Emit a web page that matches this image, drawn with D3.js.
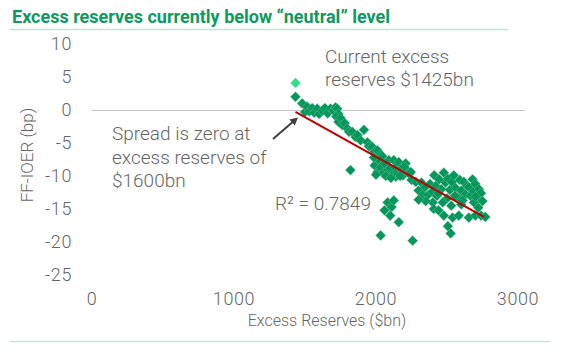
<!DOCTYPE html>
<html>
<head>
<meta charset="utf-8">
<script src="https://cdn.jsdelivr.net/npm/d3@7"></script>
<style>
    body { margin: 0; background: #fff; }
    text { font-family: Roboto, "Liberation Sans", sans-serif; }
</style>
</head>
<body>
<div id="chart"></div>
<script>
// excess reserves ($bn) vs FF-IOER spread (bp)
var excessReserves = [
    1433, 1480, 1500, 1515, 1530, 1551, 1565, 1586, 1600, 1621, 1640, 1660, 1680, 1701, 1715, 1727,
    1736, 1720, 1736, 1750, 1763, 1780, 1798, 1810, 1833, 1856, 1870, 1892, 1915, 1939, 1950, 1974,
    1990, 2010, 2033, 1820,
    1990, 2010, 2020, 2033, 2050, 2060, 2082, 2090, 2100, 2115, 2125, 2135, 2150, 2160, 2175, 2190,
    2209, 2220, 2235, 2245, 2070, 2000, 2140, 2250, 1985, 2045, 2105, 2170, 2200,
    2082, 2110, 2125, 2060, 2100, 2160, 2033, 2258,
    2280, 2300, 2320, 2329, 2345, 2365, 2380, 2395, 2410, 2420, 2430, 2445, 2460, 2478, 2490, 2500,
    2506, 2520, 2535, 2548, 2560, 2575, 2590, 2600, 2619, 2630, 2640, 2654, 2665, 2680, 2689, 2700,
    2715, 2725, 2740, 2750, 2470, 2530, 2600, 2690, 2720, 2400, 2350, 2300, 2440, 2555, 2610, 2700,
    2407, 2440, 2478, 2540, 2583, 2654, 2700, 2740, 2770, 2506, 2526
];
var ffIoerSpread = [
    2.0, 1.0, -0.3, 0.5, -0.2, 0.3, -0.4, 0.2, -0.6, -0.1, 0.3, -0.5, 0.2, -0.1, 0.4, 0.2,
    -0.6, -1.0, -1.8, -1.2, -2.3, -2.0, -2.8, -3.3, -3.3, -4.1, -3.8, -4.6, -3.0, -4.9, -5.5, -5.6,
    -6.3, -6.1, -6.8, -9.1,
    -8.4, -9.4, -7.6, -8.7, -9.6, -8.1, -9.1, -7.6, -8.8, -9.8, -7.6, -8.7, -9.4, -7.9, -8.9, -9.9,
    -8.1, -9.2, -9.7, -9.4, -10.0, -9.8, -10.1, -10.6, -7.2, -7.0, -10.3, -10.0, -8.6,
    -14.0, -14.7, -13.7, -15.2, -16.0, -17.0, -19.0, -19.8,
    -10.9, -12.2, -11.0, -12.8, -11.7, -12.9, -11.2, -12.4, -9.9, -11.5, -13.0, -10.5, -12.0, -9.5, -11.0, -13.4,
    -10.4, -12.1, -10.9, -9.9, -11.8, -13.2, -10.6, -12.2, -10.9, -12.8, -11.5, -11.7, -13.0, -10.5, -12.3, -11.2,
    -13.5, -12.0, -12.6, -13.8, -14.0, -14.5, -14.3, -14.0, -14.8, -14.0, -13.8, -13.6, -12.6, -13.0, -13.7, -13.1,
    -15.0, -15.2, -16.0, -16.3, -16.0, -16.3, -16.0, -16.0, -16.2, -17.6, -18.7
];
var currentPoint = [1433, 4.1];
var trendX = [1433, 2760];
var trendY = [-0.3, -16.2];
var xTicks = [0, 1000, 2000, 3000];
var yTicks = [10, 5, 0, -5, -10, -15, -20, -25];

var width = 565, height = 352;
var svg = d3.select('#chart')
    .append('svg')
    .attr('width', width)
    .attr('height', height);

var x = d3.scaleLinear().domain([0, 3000]).range([92, 518]);
var y = d3.scaleLinear().domain([-25, 10]).range([275, 44]);

// title + rules
svg.append('text')
    .attr('x', 12)
    .attr('y', 23)
    .attr('fill', '#0e9a5f')
    .style('font-weight', 'bold')
    .style('font-size', '18px')
    .text('Excess reserves currently below “neutral” level');
svg.append('line')
    .attr('x1', 10).attr('x2', 508)
    .attr('y1', 29.5).attr('y2', 29.5)
    .attr('stroke', '#bfe6d6').attr('stroke-width', 1.5);
svg.append('line')
    .attr('x1', 10).attr('x2', 550)
    .attr('y1', 341.5).attr('y2', 341.5)
    .attr('stroke', '#bfe6d6').attr('stroke-width', 1.5);

// zero line
svg.append('line')
    .attr('x1', x(0)).attr('x2', 525)
    .attr('y1', Math.round(y(0)) + 0.5).attr('y2', Math.round(y(0)) + 0.5)
    .attr('stroke', '#c8c8c8').attr('stroke-width', 1);

var labelColor = '#666666';
svg.selectAll('.ytick')
    .data(yTicks)
    .enter()
    .append('text')
    .attr('class', 'ytick')
    .attr('x', 72)
    .attr('y', function(d) { return y(d); })
    .attr('dy', '0.35em')
    .attr('text-anchor', 'end')
    .attr('fill', labelColor)
    .style('font-size', '18px')
    .style('letter-spacing', '0.6px')
    .style('font-weight', 300)
    .text(function(d) { return d; });

svg.selectAll('.xtick')
    .data(xTicks)
    .enter()
    .append('text')
    .attr('class', 'xtick')
    .attr('x', function(d) { return x(d); })
    .attr('y', 305)
    .attr('text-anchor', 'middle')
    .attr('fill', labelColor)
    .style('font-size', '18px')
    .style('letter-spacing', '0.6px')
    .style('font-weight', 300)
    .text(function(d) { return d; });

svg.append('text')
    .attr('x', 327)
    .attr('y', 326)
    .attr('text-anchor', 'middle')
    .attr('fill', labelColor)
    .style('font-size', '16px')
    .style('font-weight', 300)
    .text('Excess Reserves ($bn)');

svg.append('text')
    .attr('transform', 'translate(33,155) rotate(-90)')
    .attr('text-anchor', 'middle')
    .attr('fill', labelColor)
    .style('font-size', '17px')
    .style('font-weight', 300)
    .text('FF-IOER (bp)');

// points
var diamond = d3.symbol().type(d3.symbolSquare).size(52);
var pts = d3.range(excessReserves.length).map(function(i) {
    return [excessReserves[i], ffIoerSpread[i]];
});
svg.append('g')
    .selectAll('path')
    .data(pts)
    .enter()
    .append('path')
    .attr('d', diamond)
    .attr('transform', function(d) {
        return 'translate(' + x(d[0]) + ',' + y(d[1]) + ') rotate(45)';
    })
    .attr('fill', '#05965b')
    .attr('stroke', '#7fcaa8')
    .attr('stroke-width', 0.4);

svg.append('path')
    .attr('d', diamond)
    .attr('transform', 'translate(' + x(currentPoint[0]) + ',' + y(currentPoint[1]) + ') rotate(45)')
    .attr('fill', '#30e08e');

// trend line
svg.append('line')
    .attr('x1', x(trendX[0])).attr('y1', y(trendY[0]))
    .attr('x2', x(trendX[1])).attr('y2', y(trendY[1]))
    .attr('stroke', '#c00000')
    .attr('stroke-width', 2);

// arrow
svg.append('defs')
    .append('marker')
    .attr('id', 'arrow')
    .attr('viewBox', '0 0 10 10')
    .attr('refX', 5).attr('refY', 5)
    .attr('markerWidth', 4).attr('markerHeight', 4)
    .attr('orient', 'auto')
    .append('path')
    .attr('d', 'M0,0 L10,5 L0,10 z')
    .attr('fill', '#404040');
svg.append('line')
    .attr('x1', 273).attr('y1', 139)
    .attr('x2', 295).attr('y2', 120)
    .attr('stroke', '#404040')
    .attr('stroke-width', 2)
    .attr('marker-end', 'url(#arrow)');

// annotations
function addLines(lines, x0, y0, step) {
    lines.forEach(function(t, i) {
        svg.append('text')
            .attr('x', x0)
            .attr('y', y0 + i * step)
            .attr('fill', labelColor)
            .style('font-size', '19px')
            .style('font-weight', 300)
            .text(t);
    });
}
addLines(['Current excess', 'reserves $1425bn'], 325, 62.5, 23);
addLines(['Spread is zero at', 'excess reserves of', '$1600bn'], 112, 140, 23.5);
addLines(['R² = 0.7849'], 275, 210, 0);
</script>
</body>
</html>
